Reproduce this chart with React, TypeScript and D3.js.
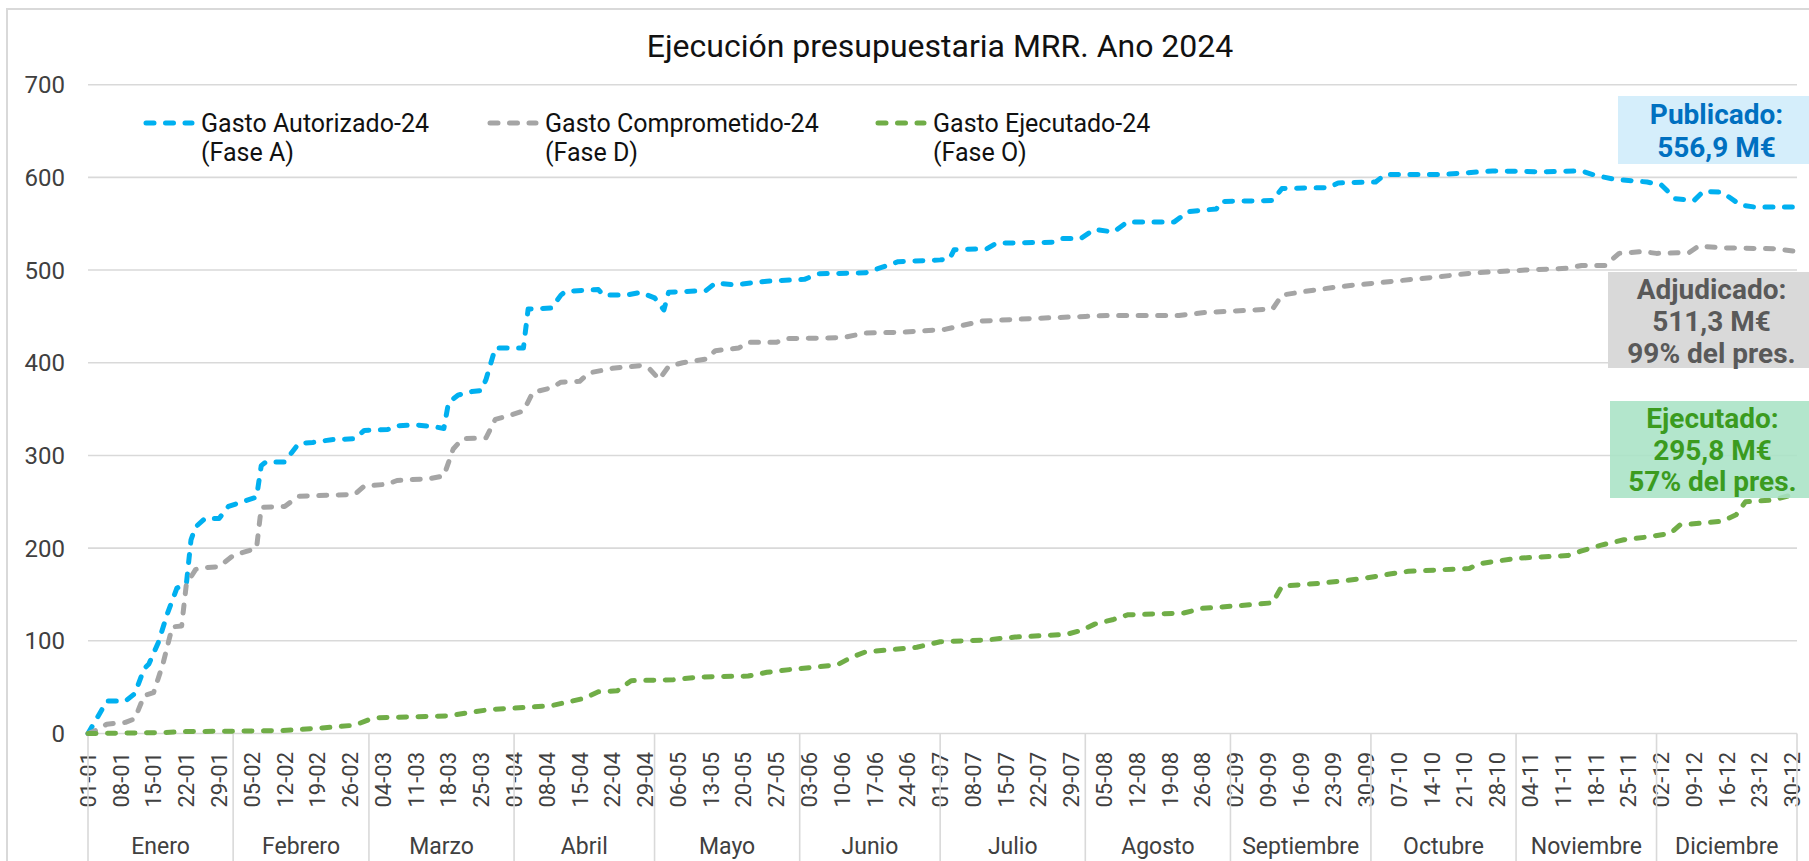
import React from "react";
import * as d3 from "d3";

const W = 1809;
const H = 861;

// categorías del eje: meses y etiquetas semanales
const meses = ["Enero", "Febrero", "Marzo", "Abril", "Mayo", "Junio", "Julio", "Agosto", "Septiembre", "Octubre", "Noviembre", "Diciembre"];
const inicioMes = ["01-01", "01-02", "01-03", "01-04", "01-05", "01-06", "01-07", "01-08", "01-09", "01-10", "01-11", "01-12"];
const etiquetasX = [
  "01-01", "08-01", "15-01", "22-01", "29-01", "05-02", "12-02", "19-02", "26-02", "04-03", "11-03", "18-03", "25-03",
  "01-04", "08-04", "15-04", "22-04", "29-04", "06-05", "13-05", "20-05", "27-05", "03-06", "10-06", "17-06", "24-06",
  "01-07", "08-07", "15-07", "22-07", "29-07", "05-08", "12-08", "19-08", "26-08", "02-09", "09-09", "16-09", "23-09",
  "30-09", "07-10", "14-10", "21-10", "28-10", "04-11", "11-11", "18-11", "25-11", "02-12", "09-12", "16-12", "23-12", "30-12",
];
const ticksY = [0, 100, 200, 300, 400, 500, 600, 700];

// Gasto Autorizado-24 (Fase A), M€
const autorizado: [string, number][] = [
  ["01-01", 0], ["04-01", 26], ["05-01", 35], ["09-01", 35], ["11-01", 43], ["13-01", 70], ["14-01", 75],
  ["16-01", 98], ["18-01", 130], ["20-01", 157], ["22-01", 161], ["23-01", 209], ["24-01", 223], ["26-01", 232],
  ["29-01", 232], ["31-01", 245], ["03-02", 250], ["06-02", 255], ["07-02", 289], ["08-02", 293], ["12-02", 293],
  ["15-02", 313], ["18-02", 314], ["22-02", 317], ["27-02", 318], ["29-02", 327], ["05-03", 328], ["07-03", 332],
  ["11-03", 333], ["15-03", 331], ["17-03", 329], ["18-03", 357], ["20-03", 365], ["23-03", 369], ["25-03", 370],
  ["26-03", 382], ["28-03", 416], ["03-04", 416], ["04-04", 458], ["09-04", 459], ["11-04", 473], ["12-04", 477],
  ["19-04", 479], ["20-04", 473], ["25-04", 473], ["28-04", 476], ["01-05", 470], ["03-05", 457], ["04-05", 476],
  ["12-05", 478], ["14-05", 486], ["18-05", 484], ["25-05", 488], ["02-06", 490], ["05-06", 496], ["15-06", 497],
  ["18-06", 502], ["22-06", 509], ["01-07", 511], ["03-07", 512], ["04-07", 522], ["11-07", 523], ["13-07", 529],
  ["25-07", 530], ["27-07", 534], ["31-07", 534], ["03-08", 544], ["07-08", 541], ["10-08", 552], ["20-08", 552],
  ["23-08", 563], ["29-08", 566], ["30-08", 574], ["10-09", 575], ["12-09", 588], ["22-09", 589], ["24-09", 594],
  ["02-10", 595], ["04-10", 603], ["16-10", 603], ["27-10", 607], ["07-11", 606], ["15-11", 607], ["18-11", 602],
  ["22-11", 598], ["29-11", 595], ["02-12", 592], ["05-12", 577], ["09-12", 575], ["11-12", 585], ["15-12", 584],
  ["19-12", 570], ["22-12", 568], ["30-12", 568],
];

// Gasto Comprometido-24 (Fase D), M€
const comprometido: [string, number][] = [
  ["01-01", 0], ["03-01", 4], ["05-01", 10], ["09-01", 12], ["11-01", 16], ["13-01", 41], ["15-01", 44],
  ["17-01", 75], ["19-01", 115], ["21-01", 116], ["22-01", 161], ["24-01", 177], ["26-01", 179], ["29-01", 180],
  ["01-02", 192], ["06-02", 200], ["07-02", 244], ["12-02", 245], ["15-02", 256], ["27-02", 258], ["29-02", 267],
  ["05-03", 269], ["07-03", 273], ["14-03", 275], ["17-03", 278], ["19-03", 307], ["21-03", 318], ["26-03", 319],
  ["28-03", 339], ["31-03", 343], ["03-04", 348], ["05-04", 368], ["09-04", 373], ["11-04", 379], ["15-04", 380],
  ["17-04", 389], ["22-04", 394], ["28-04", 397], ["30-04", 393], ["02-05", 382], ["04-05", 396], ["07-05", 400],
  ["12-05", 404], ["14-05", 413], ["19-05", 416], ["21-05", 422], ["27-05", 422], ["29-05", 426], ["10-06", 427],
  ["15-06", 432], ["23-06", 433], ["02-07", 436], ["10-07", 445], ["22-07", 448], ["01-08", 450], ["06-08", 451],
  ["21-08", 451], ["26-08", 454], ["10-09", 458], ["12-09", 473], ["17-09", 477], ["24-09", 482], ["30-09", 485],
  ["16-10", 493], ["23-10", 497], ["03-11", 500], ["12-11", 502], ["15-11", 505], ["20-11", 505], ["23-11", 518],
  ["28-11", 520], ["01-12", 518], ["08-12", 519], ["10-12", 526], ["15-12", 524], ["26-12", 523], ["31-12", 520],
];

// Gasto Ejecutado-24 (Fase O), M€
const ejecutado: [string, number][] = [
  ["01-01", 0], ["17-01", 1], ["21-01", 2], ["11-02", 3], ["20-02", 6], ["27-02", 9], ["01-03", 15], ["03-03", 17],
  ["18-03", 19], ["23-03", 23], ["27-03", 26], ["03-04", 28], ["09-04", 30], ["16-04", 38], ["19-04", 45],
  ["23-04", 46], ["26-04", 57], ["05-05", 58], ["11-05", 61], ["21-05", 62], ["25-05", 66], ["30-05", 69],
  ["09-06", 74], ["12-06", 82], ["15-06", 88], ["26-06", 93], ["01-07", 99], ["11-07", 101], ["17-07", 104],
  ["28-07", 107], ["31-07", 111], ["03-08", 118], ["07-08", 123], ["10-08", 128], ["22-08", 130], ["26-08", 135],
  ["03-09", 138], ["10-09", 141], ["12-09", 159], ["20-09", 162], ["29-09", 167], ["05-10", 172], ["09-10", 175],
  ["22-10", 178], ["24-10", 183], ["01-11", 189], ["12-11", 192], ["15-11", 197], ["19-11", 203], ["24-11", 209],
  ["29-11", 212], ["04-12", 216], ["06-12", 225], ["15-12", 229], ["18-12", 236], ["20-12", 250], ["26-12", 252],
  ["31-12", 259],
];

const titulo = "Ejecución presupuestaria MRR. Ano 2024";
const leyendaNombres = ["Gasto Autorizado-24", "Gasto Comprometido-24", "Gasto Ejecutado-24"];
const leyendaFases = ["(Fase A)", "(Fase D)", "(Fase O)"];
const notaPublicado = ["Publicado:", "556,9 M€"];
const notaAdjudicado = ["Adjudicado:", "511,3 M€", "99% del pres."];
const notaEjecutado = ["Ejecutado:", "295,8 M€", "57% del pres."];

const AZUL = "#00B0F0";
const GRIS = "#A5A5A5";
const VERDE = "#70AD47";
const REJILLA = "#D9D9D9";
const FONT = "Roboto, 'Noto Sans', sans-serif";
const DASH = "8 11.5";

const fecha = (s: string) => {
  const [d, m] = s.split("-").map(Number);
  return new Date(Date.UTC(2024, m - 1, d));
};

const margin = { left: 88, right: W - 1797, top: 84.7, bottom: H - 733.5 };

export default function App() {
  const x = d3.scaleUtc()
    .domain([fecha("01-01"), fecha("31-12")])
    .range([margin.left, W - margin.right]);
  const y = d3.scaleLinear()
    .domain([0, 700])
    .range([H - margin.bottom, margin.top]);

  const linea = d3.line<[string, number]>()
    .x(d => x(fecha(d[0])))
    .y(d => y(d[1]));

  const series = [
    { datos: autorizado, color: AZUL },
    { datos: comprometido, color: GRIS },
    { datos: ejecutado, color: VERDE },
  ];

  const bordesMes = inicioMes.map(fecha).map(d => x(d));
  bordesMes.push(x.range()[1]);

  const leyendaX = [143, 487, 875];

  const nota = (lineas: string[], box: { x: number; y: number; h: number }, fill: string, color: string, baselines: number[], opacity = 1) => (
    <g>
      <rect x={box.x} y={box.y} width={W - box.x} height={box.h} fill={fill} fillOpacity={opacity} />
      {lineas.map((t, i) => (
        <text key={t} x={box.x + (W - box.x) / 2 + 3} y={baselines[i]} textAnchor="middle"
          fontFamily={FONT} fontWeight={700} fontSize={28} fill={color}>{t}</text>
      ))}
    </g>
  );

  return (
    <svg width={W} height={H} style={{ position: "absolute", left: 0, top: 0, background: "#fff" }}>
      <rect x={7} y={9} width={W} height={H} fill="#fff" stroke={REJILLA} strokeWidth={2} />

      <text x={940} y={57} textAnchor="middle" fontFamily={FONT} fontSize={32} fill="#111">{titulo}</text>

      {/* rejilla y eje Y */}
      {ticksY.map(t => (
        <g key={t}>
          <line x1={x.range()[0]} x2={x.range()[1]} y1={y(t)} y2={y(t)} stroke={REJILLA} strokeWidth={1.6} />
          <text x={65} y={y(t)} dy="0.36em" textAnchor="end" fontFamily={FONT} fontSize={24} fill="#404040">{t}</text>
        </g>
      ))}

      {/* eje X: etiquetas semanales */}
      {etiquetasX.map(s => (
        <text key={s} transform={`translate(${x(fecha(s))},752) rotate(-90)`} dy="0.36em" textAnchor="end"
          fontFamily={FONT} fontSize={22} fill="#404040">{s}</text>
      ))}

      {/* separadores de mes */}
      {bordesMes.map((bx, i) => (
        <line key={i} x1={bx} x2={bx} y1={y(0)} y2={H} stroke={REJILLA} strokeWidth={1.6} />
      ))}
      {meses.map((m, i) => (
        <text key={m} x={(bordesMes[i] + bordesMes[i + 1]) / 2} y={854} textAnchor="middle"
          fontFamily={FONT} fontSize={23} fill="#404040">{m}</text>
      ))}

      {/* series */}
      {series.map((s, i) => (
        <path key={i} d={linea(s.datos) ?? ""} fill="none" stroke={s.color} strokeWidth={5}
          strokeDasharray={DASH} strokeLinecap="round" strokeLinejoin="round" />
      ))}

      {/* leyenda */}
      {leyendaNombres.map((n, i) => (
        <g key={n}>
          <line x1={leyendaX[i] + 3} x2={leyendaX[i] + 49} y1={123} y2={123} stroke={series[i].color}
            strokeWidth={5} strokeDasharray={DASH} strokeLinecap="round" />
          <text x={leyendaX[i] + 58} y={132} fontFamily={FONT} fontSize={25} fill="#111">{n}</text>
          <text x={leyendaX[i] + 58} y={161} fontFamily={FONT} fontSize={25} fill="#111">{leyendaFases[i]}</text>
        </g>
      ))}

      {/* anotaciones */}
      {nota(notaPublicado, { x: 1618, y: 96, h: 68 }, "#D5EEFB", "#0070C0", [124, 157])}
      {nota(notaAdjudicado, { x: 1608, y: 272, h: 96 }, "#D9D9D9", "#595959", [299, 331, 363])}
      {nota(notaEjecutado, { x: 1610, y: 401, h: 97 }, "#A9E3C5", "#3B9B1F", [428, 460, 491], 0.88)}
    </svg>
  );
}
